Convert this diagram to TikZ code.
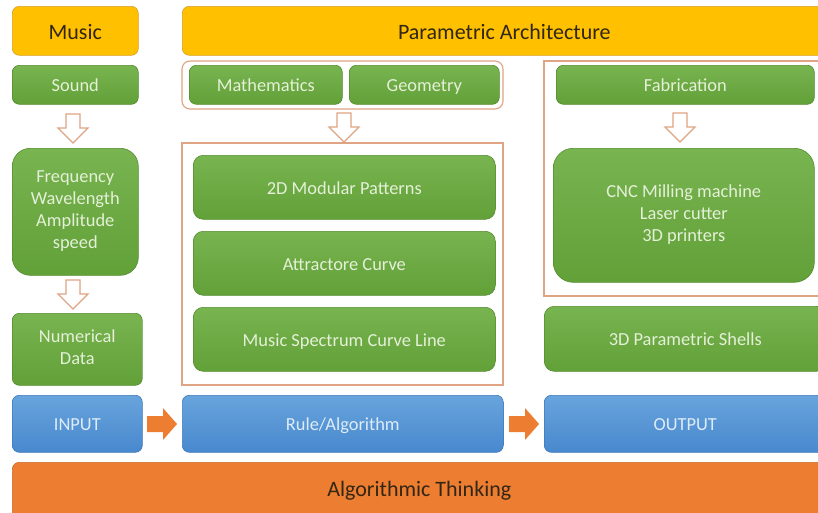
\documentclass[tikz,border=0pt]{standalone}
\usepackage{fontspec}
\setmainfont{Carlito}
\definecolor{gA}{RGB}{120,180,80}
\definecolor{gB}{RGB}{98,160,56}
\definecolor{gD}{RGB}{84,140,48}
\definecolor{gT}{RGB}{228,240,216}
\definecolor{bA}{RGB}{104,164,220}
\definecolor{bB}{RGB}{72,136,206}
\definecolor{bD}{RGB}{64,120,186}
\definecolor{bT}{RGB}{222,236,248}
\definecolor{yF}{RGB}{255,192,0}
\definecolor{yD}{RGB}{214,160,40}
\definecolor{oF}{RGB}{237,125,49}
\definecolor{fr}{RGB}{222,164,132}
\definecolor{dk}{RGB}{50,38,20}
\newcommand\mystrut{\rule[-0.2em]{0pt}{1.16em}}
\newcommand\myfirststrut{\rule{0pt}{1.35em}}
\newcommand\mylaststrut{\rule{0pt}{0.5em}}
\tikzset{
  base/.style={anchor=north west, inner sep=0pt, align=center, line width=0.6pt,
    execute at begin node=\mystrut, execute at end node=\mystrut},
  multi/.style={execute at begin node=\myfirststrut, execute at end node=\mylaststrut},
  gbox/.style={base, rounded corners=7pt, top color=gA, bottom color=gB, draw=gD, text=gT,
    font=\fontsize{18.4}{22}\selectfont},
  bbox/.style={base, rounded corners=7pt, top color=bA, bottom color=bB, draw=bD, text=bT,
    font=\fontsize{18.4}{22}\selectfont},
  ybox/.style={base, rounded corners=7pt, fill=yF, draw=yD, text=dk,
    font=\fontsize{22}{24}\selectfont},
  obox/.style={base, rounded corners=7pt, fill=oF, draw=oF!85!black, text=dk,
    font=\fontsize{22}{24}\selectfont},
  otext/.style={inner sep=0pt, text=dk, font=\fontsize{22}{24}\selectfont,
    execute at begin node=\mystrut, execute at end node=\mystrut},
  frame/.style={draw=fr, line width=1.1pt},
  downarr/.pic={\draw[draw=fr, line width=1.1pt, fill=white]
     (-7,0) -- (7,0) -- (7,14) -- (15,14) -- (0,29) -- (-15,14) -- (-7,14) -- cycle;},
  rightarr/.pic={\fill[oF] (0,-8) -- (16,-8) -- (16,-16) -- (30,0) -- (16,16) -- (16,8) -- (0,8) -- cycle;},
}
\begin{document}
\begin{tikzpicture}[x=1pt,y=-1pt]
\clip (0,0) rectangle (818,512);
\fill[white] (0,0) rectangle (818,512);
% frames
\draw[frame, rounded corners=8pt] (182,61) rectangle (503,109);
\draw[frame] (182,143) rectangle (503,385);
\draw[frame] (544,61) rectangle (830,296);
% headers
\node[ybox, minimum width=126pt, minimum height=49pt] (music) at (12,6) {Music};
\node[ybox, minimum width=644pt, minimum height=49pt] (param) at (182,6) {Parametric Architecture};
% left column
\node[gbox, minimum width=126pt, minimum height=39pt] (sound) at (12,65) {Sound};
\node[gbox, multi, rounded corners=18pt, minimum width=126pt, minimum height=127pt] (freq) at (12,148) {Frequency\\Wavelength\\Amplitude\\speed};
\node[gbox, multi, minimum width=130pt, minimum height=72pt] (num) at (12,313) {Numerical\\Data};
% middle column
\node[gbox, minimum width=153pt, minimum height=39pt] (math) at (189,65) {Mathematics};
\node[gbox, minimum width=150pt, minimum height=39pt] (geom) at (349,65) {Geometry};
\node[gbox, rounded corners=10pt, minimum width=302pt, minimum height=64pt] (mod) at (193,155) {2D Modular Patterns};
\node[gbox, rounded corners=10pt, minimum width=302pt, minimum height=64pt] (attr) at (193,231) {Attractore Curve};
\node[gbox, rounded corners=10pt, minimum width=302pt, minimum height=64pt] (spec) at (193,307) {Music Spectrum Curve Line};
% right column
\node[gbox, minimum width=258pt, minimum height=39pt] (fab) at (556,65) {Fabrication};
\node[gbox, multi, rounded corners=20pt, minimum width=261pt, minimum height=134pt] (cnc) at (553,148) {CNC Milling machine\\Laser cutter\\3D printers};
\node[gbox, rounded corners=10pt, minimum width=282pt, minimum height=65pt] (shell) at (544,306) {3D Parametric Shells};
% bottom rows
\node[bbox, minimum width=130pt, minimum height=57pt] (input) at (12,395) {INPUT};
\node[bbox, minimum width=321pt, minimum height=57pt] (rule) at (182,395) {Rule/Algorithm};
\node[bbox, minimum width=282pt, minimum height=57pt] (output) at (544,395) {OUTPUT};
\node[obox, minimum width=814pt, minimum height=60pt] (algo) at (12,462) {};
\node[otext] (algotext) at ([yshift=4pt]algo.center) {Algorithmic Thinking};
% arrows
\pic at (73,114) {downarr};
\pic at (73,280) {downarr};
\pic at (344,113) {downarr};
\pic at (680,113) {downarr};
\pic at (147,424) {rightarr};
\pic at (509,424) {rightarr};
\end{tikzpicture}
\end{document}
